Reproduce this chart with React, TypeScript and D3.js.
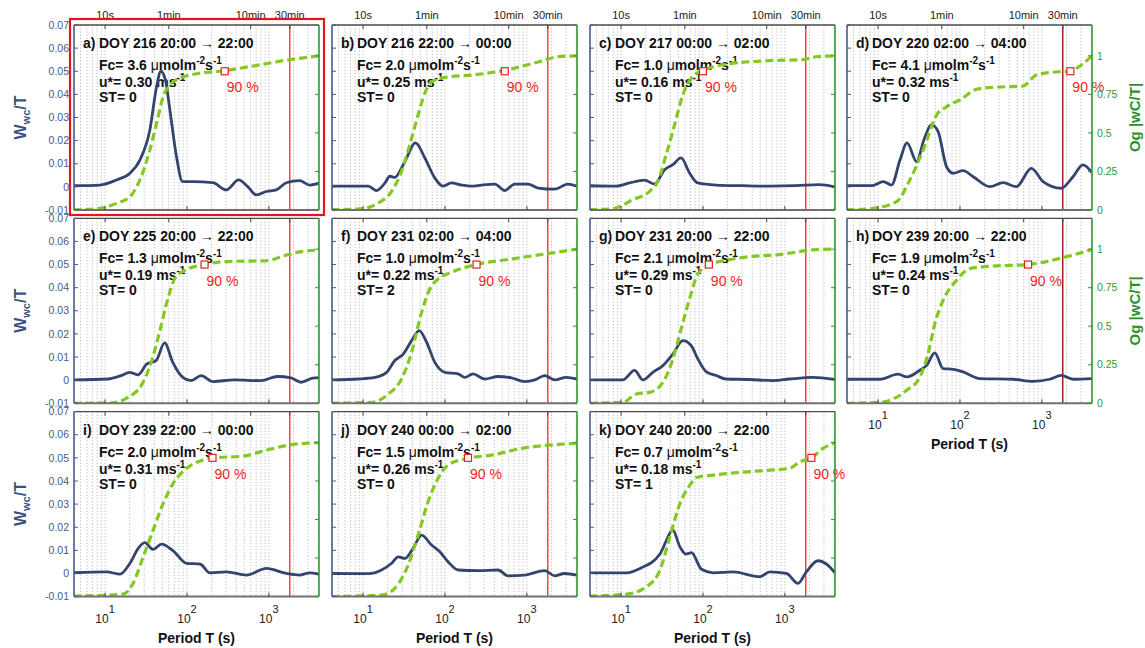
import React from 'react';
import * as d3 from 'd3';

// ---------------- data ----------------
const letters = ['a', 'b', 'c', 'd', 'e', 'f', 'g', 'h', 'i', 'j', 'k'];
const titles = [
  'DOY 216 20:00 → 22:00', 'DOY 216 22:00 → 00:00', 'DOY 217 00:00 → 02:00', 'DOY 220 02:00 → 04:00',
  'DOY 225 20:00 → 22:00', 'DOY 231 02:00 → 04:00', 'DOY 231 20:00 → 22:00', 'DOY 239 20:00 → 22:00',
  'DOY 239 22:00 → 00:00', 'DOY 240 00:00 → 02:00', 'DOY 240 20:00 → 22:00',
];
const fcValues = [3.6, 2.0, 1.0, 4.1, 1.3, 1.0, 2.1, 1.9, 2.0, 1.5, 0.7];
const ustarValues = [0.30, 0.25, 0.16, 0.32, 0.19, 0.22, 0.29, 0.24, 0.31, 0.26, 0.18];
const stValues = [0, 0, 0, 0, 0, 2, 0, 0, 0, 0, 1];
const t90Values = [289, 537, 100, 2228, 164, 243, 118, 678, 205, 191, 2108];

const cospecA = [[4.1,0.0005],[8.6,0.0008],[13.8,0.003],[20.1,0.0059],[26.6,0.0116],[35.2,0.0246],[42.5,0.0433],[48,0.050],[54.7,0.046],[61.8,0.0333],[74.5,0.013],[88.3,0.0023],[118,0.0023],[207,0.0018],[303,-0.0013],[428,0.003],[552,0.0001],[705,-0.0035],[933,-0.002],[1236,-0.0013],[1637,0.0018],[2377,0.0027],[3148,0.0008],[4096,0.0016]];
const ogiveA = [[4.1,0],[8.6,0.011],[13.8,0.043],[20.1,0.086],[26.6,0.195],[35.2,0.389],[42.5,0.562],[51.2,0.735],[61.8,0.811],[81.9,0.854],[144,0.887],[289,0.904],[583,0.93],[1698,0.973],[4096,1.0]];
const cospecB = [[4.1,0.0003],[11.6,0.0003],[14.6,-0.0016],[18.5,0.0017],[21.2,0.0046],[24.4,0.0041],[32.4,0.011],[43.7,0.019],[56.8,0.0125],[75.2,0.0038],[94.9,0.0003],[120,0.0017],[159,0.0008],[211,0.0003],[279,0.0008],[406,0.0012],[537,-0.0016],[711,0.0012],[1033,0.0012],[1368,-0.0005],[2188,-0.001],[3177,0.0012],[4096,0.0003]];
const ogiveB = [[4.1,0.002],[9.6,0.008],[15.3,0.045],[22.3,0.121],[29.5,0.251],[37.2,0.424],[47,0.618],[56.8,0.759],[68.5,0.83],[99.6,0.86],[231,0.877],[537,0.906],[1368,0.96],[2399,0.994],[4096,1.0]];
const cospecC = [[4.1,0.0005],[8.7,0.0003],[12.7,0.0017],[19.4,0.0029],[25.6,0.0012],[34,0.0074],[42.9,0.0096],[54.1,0.0125],[68.5,0.006],[86.5,0.0017],[145,0.0008],[306,0.0005],[648,0.0003],[1368,0.0005],[2637,0.001],[4096,0.0]];
const ogiveC = [[4.1,0.002],[7.9,0.008],[13.9,0.067],[22.3,0.121],[28.1,0.186],[35.5,0.359],[45,0.553],[56.8,0.748],[75.2,0.867],[99.6,0.904],[175,0.942],[589,0.968],[1652,0.975],[2399,0.994],[4096,1.0]];
const cospecD = [[4.1,0.0005],[8.3,0.0005],[11.6,0.0023],[14.6,0.0008],[18.5,0.0116],[22.6,0.019],[29.5,0.0109],[36.2,0.0203],[45,0.0268],[54.1,0.0239],[68.5,0.0087],[82.4,0.0059],[109,0.007],[145,0.0044],[231,0.0001],[336,0.0018],[489,0.0001],[745,0.008],[1033,0.0023],[1730,-0.0006],[2399,0.0044],[3177,0.0095],[4096,0.0061]];
const ogiveD = [[4.1,0],[8.7,0.011],[16.8,0.054],[24.4,0.195],[35.5,0.389],[51.8,0.616],[68.5,0.67],[99.6,0.714],[159,0.783],[254,0.796],[589,0.804],[857,0.876],[1652,0.897],[2228,0.9],[3036,0.941],[4096,1.0]];
const cospecE = [[4.1,0.0001],[10.8,0.0005],[15.7,0.002],[19.9,0.0034],[25.1,0.0023],[32.4,0.007],[42,0.0085],[53.2,0.0161],[67.1,0.0077],[88.9,0.0012],[112,-0.0002],[149,0.002],[207,-0.0006],[380,0.0001],[802,-0.0002],[1282,0.0016],[1862,0.001],[2468,-0.0009],[3592,0.001],[4096,0.001]];
const ogiveE = [[4.1,0],[11.9,0.002],[19,0.039],[27.6,0.115],[36.6,0.266],[46.2,0.461],[58.3,0.677],[70.5,0.806],[93.3,0.861],[164,0.9],[287,0.919],[968,0.926],[1546,0.958],[2468,0.984],[4096,0.994]];
const cospecF = [[4.1,0.0001],[8.7,0.0005],[13.9,0.0012],[19.4,0.0034],[24.4,0.0085],[30.9,0.0113],[39.1,0.0171],[48.4,0.0214],[59.6,0.0164],[75.2,0.0077],[99.6,0.0034],[145,0.0027],[175,0.0012],[220,0.0027],[306,0.0005],[445,0.0016],[648,0.001],[942,-0.0006],[1248,0.0001],[1652,0.002],[2188,0.0001],[3036,0.0012],[4096,0.0005]];
const ogiveF = [[4.1,0],[12.7,0.006],[20.3,0.06],[29.5,0.158],[39.1,0.331],[51.8,0.59],[65.3,0.741],[82.4,0.806],[120,0.85],[243,0.9],[648,0.936],[1652,0.968],[4096,1.0]];
const cospecG = [[4.1,0.0001],[10.5,0.0001],[14.6,0.0042],[18.5,0.0001],[24.4,0.0034],[32.4,0.0063],[42.9,0.0113],[56.8,0.0171],[71.7,0.015],[86.5,0.0092],[109,0.0037],[145,0.002],[191,0.0005],[370,0.0003],[711,-0.0002],[1135,0.0005],[2188,0.0012],[4096,0.0003]];
const ogiveG = [[4.1,0],[10.5,0.006],[15.3,0.06],[22.3,0.071],[32.4,0.136],[42.9,0.287],[54.1,0.482],[68.5,0.677],[86.5,0.839],[118,0.895],[231,0.936],[942,0.968],[2399,0.997],[4096,1.0]];
const cospecH = [[4.1,0.0004],[10.5,0.0004],[17.6,0.0026],[22.3,0.0014],[32.4,0.0043],[39.1,0.0064],[49.3,0.0118],[62.2,0.005],[82.4,0.0047],[109,0.0036],[175,0.0007],[445,0.0004],[780,-0.0005],[1248,0.0004],[1730,0.0021],[2399,0.0004],[4096,0.0007]];
const ogiveH = [[4.1,0],[10.5,0.006],[22.3,0.084],[32.4,0.171],[40.8,0.322],[49.3,0.517],[62.2,0.668],[90.8,0.798],[132,0.874],[279,0.891],[678,0.9],[1811,0.945],[4096,0.997]];
const cospecI = [[4.1,0.0003],[10.4,0.0007],[15.2,-0.0003],[20.1,0.0044],[25.4,0.0109],[30.6,0.0133],[38.6,0.0104],[48.9,0.0127],[67.8,0.0098],[98.7,0.0044],[144,0.0041],[190,0.0003],[303,0.0007],[532,-0.0007],[933,0.0022],[1637,0],[2377,-0.0007],[3148,0.0003],[4096,-0.0003]];
const ogiveI = [[4.1,0.003],[16.6,0.016],[22,0.086],[29.2,0.258],[38.6,0.431],[51.2,0.604],[67.8,0.734],[98.7,0.832],[157,0.886],[205,0.9],[484,0.911],[933,0.95],[1968,0.987],[4096,0.998]];
const cospecJ = [[4.1,0],[11.6,-0.0001],[16.8,0.0015],[22.3,0.0044],[26.9,0.0072],[32.4,0.0065],[40.8,0.0109],[51.8,0.0166],[68.5,0.0123],[86.5,0.0094],[109,0.0051],[145,0.0015],[254,0.0012],[445,0.0015],[589,-0.001],[942,-0.0007],[1652,0.0012],[2188,-0.001],[2891,0],[4096,-0.0007]];
const ogiveJ = [[4.1,0],[16.8,0.01],[24.4,0.054],[35.5,0.205],[47,0.4],[62.2,0.615],[82.4,0.767],[109,0.853],[191,0.897],[370,0.918],[942,0.965],[2399,0.987],[4096,0.994]];
const cospecK = [[4.1,0.0003],[11.7,0.0003],[17,0.0022],[29.8,0.0084],[35.9,0.0144],[42.5,0.019],[52.3,0.0115],[61.8,0.0084],[72.4,0.009],[95.9,0.0018],[133,0.0003],[233,0.0007],[493,-0.0014],[653,0.0007],[1044,0],[1446,-0.0043],[1832,0.0007],[2537,0.0055],[3212,0.0041],[4096,0.0003]];
const ogiveK = [[4.1,0.003],[11.7,0.016],[20.5,0.064],[29.8,0.172],[39.4,0.388],[52.3,0.604],[69.2,0.723],[83.4,0.773],[133,0.788],[493,0.816],[1146,0.832],[1517,0.874],[2108,0.9],[2917,0.961],[4096,0.998]];

const cospecs = [cospecA, cospecB, cospecC, cospecD, cospecE, cospecF, cospecG, cospecH, cospecI, cospecJ, cospecK];
const ogives = [ogiveA, ogiveB, ogiveC, ogiveD, ogiveE, ogiveF, ogiveG, ogiveH, ogiveI, ogiveJ, ogiveK];

const xDomain = [4.17, 4096];
const leftDomain = [-0.01, 0.07];
const rightDomain = [0, 1.2];
const leftTicks = [-0.01, 0, 0.01, 0.02, 0.03, 0.04, 0.05, 0.06, 0.07];
const rightTicks = [0, 0.25, 0.5, 0.75, 1];
const rightTickLabels = ['0', '0.25', '0.5', '0.75', '1'];
const topTickPeriods = [10, 60, 600, 1800];
const topTickLabels = ['10s', '1min', '10min', '30min'];
const bottomTickPeriods = [10, 100, 1000];
const bottomTickExponents = ['1', '2', '3'];
const cutoffPeriod = 1800;
const ogiveLevel = 0.9;

// ---------------- layout / style ----------------
const W = 1145, H = 648;
const PW = 245, PH = 185;
const COL_LEFT = [74, 332, 590, 847];
const ROW_TOP = [25, 218.3, 411.6];
const FONT = '"Liberation Sans", Arial, Helvetica, sans-serif';
const BLUE = '#33456f';
const GREEN = '#84c822';
const AX_BLUE = '#4a5a8a';
const AX_GREEN = '#2f9a2f';
const RED = '#f03a3a';
const DARK_RED = '#9a1414';

function leftLabel(v: number) {
  if (Math.abs(v) < 1e-9) return '0';
  return v.toFixed(2);
}

function Panel({ i }: { i: number }) {
  const row = Math.floor(i / 4);
  const col = i % 4;
  const left = COL_LEFT[col];
  const top = ROW_TOP[row];
  const right = left + PW;
  const bottom = top + PH;
  const x = d3.scaleLog().domain(xDomain).range([left, right]);
  const yL = d3.scaleLinear().domain(leftDomain).range([bottom, top]);
  const yR = d3.scaleLinear().domain(rightDomain).range([bottom, top]);
  const grid = x.ticks().filter((t) => t > xDomain[0] && t < xDomain[1]);
  const lineL = d3.line<number[]>().x((d) => x(d[0])).y((d) => yL(d[1])).curve(d3.curveMonotoneX);
  const lineR = d3.line<number[]>().x((d) => x(d[0])).y((d) => yR(d[1])).curve(d3.curveMonotoneX);
  const clipId = `clip-${letters[i]}`;
  const showLeft = col === 0;
  const showRight = col === 3;
  const showTop = row === 0;
  const showBottom = row === 2 || i === 7;
  const darkCut = i === 3 || i === 7;
  const sx = x(t90Values[i]);
  const sy = yR(ogiveLevel);
  const tx = left + 25;
  return (
    <g>
      <defs>
        <clipPath id={clipId}>
          <rect x={left} y={top} width={PW} height={PH} />
        </clipPath>
      </defs>
      <rect x={left} y={top} width={PW} height={PH} fill="#fff" />
      {grid.map((t) => (
        <line key={t} x1={x(t)} x2={x(t)} y1={top} y2={bottom} stroke="#b4b4b4" strokeWidth={0.9} strokeDasharray="1.2,2" />
      ))}
      <line x1={x(cutoffPeriod)} x2={x(cutoffPeriod)} y1={top} y2={bottom} stroke={darkCut ? DARK_RED : RED} strokeWidth={1.4} />
      {/* texts */}
      <text x={left + 9} y={top + 23} fontSize={14} fontWeight="bold" fill="#111">{letters[i] + ')'}</text>
      <text x={tx} y={top + 23} fontSize={14} fontWeight="bold" fill="#111">{titles[i]}</text>
      <text x={tx} y={top + 45} fontSize={14} fontWeight="bold" fill="#111">
        {`Fc= ${fcValues[i].toFixed(1)} `}
        <tspan fontWeight="normal">μ</tspan>
        {'molm'}
        <tspan dy={-6} fontSize={10}>-2</tspan>
        <tspan dy={6}>s</tspan>
        <tspan dy={-6} fontSize={10}>-1</tspan>
      </text>
      <text x={tx} y={top + 62} fontSize={14} fontWeight="bold" fill="#111">
        {`u*= ${ustarValues[i].toFixed(2)} ms`}
        <tspan dy={-6} fontSize={10}>-1</tspan>
      </text>
      <text x={tx} y={top + 77} fontSize={14} fontWeight="bold" fill="#111">{`ST= ${stValues[i]}`}</text>
      <g clipPath={`url(#${clipId})`}>
        <path d={lineL(cospecs[i]) || ''} fill="none" stroke={BLUE} strokeWidth={2.8} strokeLinejoin="round" />
        <path d={lineR(ogives[i]) || ''} fill="none" stroke={GREEN} strokeWidth={3.2} strokeDasharray="8,4" />
      </g>
      <rect x={sx - 3.5} y={sy - 3.5} width={7} height={7} fill="#fff" stroke="#f01c1c" strokeWidth={1.2} />
      <text x={sx + 2} y={sy + 21} fontSize={14} fill="#f01c1c">90 %</text>
      {/* frame */}
      <line x1={left} x2={right} y1={top} y2={top} stroke="#4a4a4a" strokeWidth={1.3} />
      <line x1={left} x2={right} y1={bottom} y2={bottom} stroke="#707070" strokeWidth={2} />
      <line x1={left} x2={left} y1={top} y2={bottom} stroke={AX_BLUE} strokeWidth={1.6} />
      <line x1={right} x2={right} y1={top} y2={bottom} stroke={AX_GREEN} strokeWidth={1.6} />
      {leftTicks.map((v) => (
        <line key={'lt' + v} x1={left} x2={left + 4} y1={yL(v)} y2={yL(v)} stroke={AX_BLUE} strokeWidth={1} />
      ))}
      {rightTicks.map((v) => (
        <line key={'rt' + v} x1={right - 4} x2={right} y1={yR(v)} y2={yR(v)} stroke={AX_GREEN} strokeWidth={1} />
      ))}
      {topTickPeriods.map((p) => (
        <line key={'tt' + p} x1={x(p)} x2={x(p)} y1={top} y2={top + 4} stroke="#444" strokeWidth={1} />
      ))}
      {bottomTickPeriods.map((p) => (
        <line key={'bt' + p} x1={x(p)} x2={x(p)} y1={bottom} y2={bottom - 4} stroke="#444" strokeWidth={1} />
      ))}
      {/* axis labels */}
      {showLeft && leftTicks.map((v) => (
        <text key={'ll' + v} x={left - 5} y={yL(v)} dy="0.35em" textAnchor="end" fontSize={10.5} fill={AX_BLUE}>{leftLabel(v)}</text>
      ))}
      {showLeft && (
        <text transform={`translate(26,${top + PH / 2}) rotate(-90)`} textAnchor="middle" fontSize={16} fontWeight="bold" fill="#3d4f80">
          W<tspan fontSize={11} dy={4}>wc</tspan><tspan dy={-4} fontSize={16}>/T</tspan>
        </text>
      )}
      {showRight && rightTicks.map((v, k) => (
        <text key={'rl' + v} x={right + 5} y={yR(v)} dy="0.35em" textAnchor="start" fontSize={10.5} fill={AX_GREEN}>{rightTickLabels[k]}</text>
      ))}
      {showRight && (
        <text transform={`translate(1140,${top + PH / 2}) rotate(-90)`} textAnchor="middle" fontSize={15} fontWeight="bold" fill="#2a922a">Og |wC/T|</text>
      )}
      {showTop && topTickPeriods.map((p, k) => (
        <text key={'tl' + p} x={x(p)} y={top - 6.5} textAnchor="middle" fontSize={11} fill="#222">{topTickLabels[k]}</text>
      ))}
      {showBottom && bottomTickPeriods.map((p, k) => (
        <text key={'bl' + p} x={x(p)} y={bottom + 26} textAnchor="middle" fontSize={12} fill="#222">
          10<tspan dy={-10} fontSize={11}>{bottomTickExponents[k]}</tspan>
        </text>
      ))}
      {showBottom && (
        <text x={left + PW / 2} y={bottom + 46} textAnchor="middle" fontSize={14} fontWeight="bold" fill="#111">Period T (s)</text>
      )}
    </g>
  );
}

export default function App() {
  return (
    <svg width={W} height={H} style={{ position: 'absolute', left: 0, top: 0, background: '#fff' }} fontFamily={FONT}>
      <rect x={0} y={0} width={W} height={H} fill="#fff" />
      {letters.map((l, i) => (
        <Panel key={l} i={i} />
      ))}
      <rect x={70} y={19} width={254} height={196} fill="none" stroke="#e8141c" strokeWidth={2.2} />
    </svg>
  );
}
